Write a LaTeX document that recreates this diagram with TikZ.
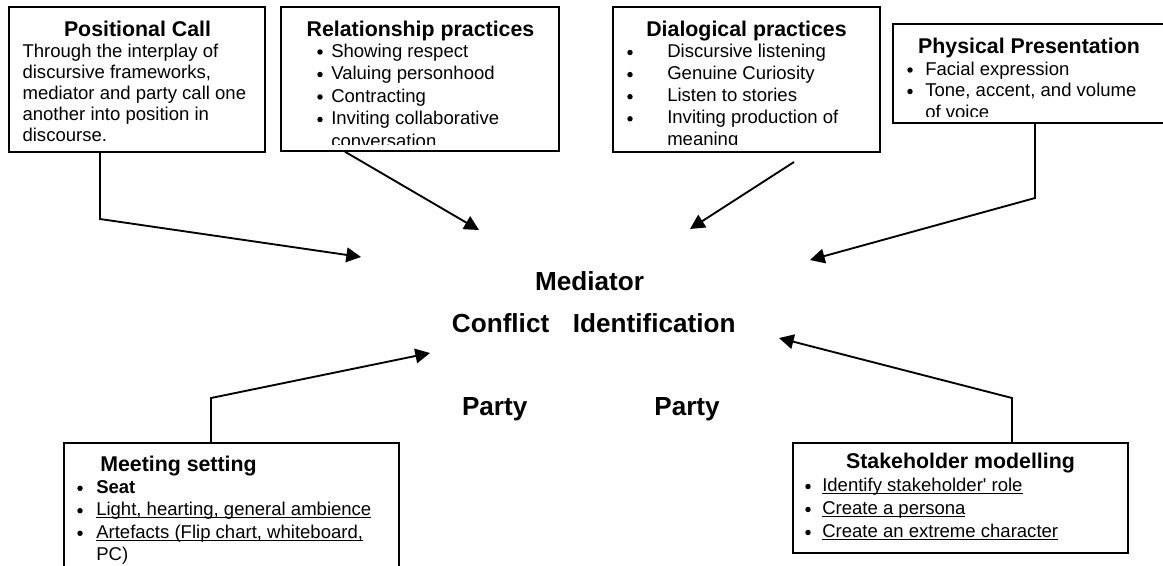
\documentclass[tikz,border=0pt]{standalone}
\usepackage{fontspec}
\setmainfont{Liberation Sans}
\usetikzlibrary{arrows.meta,fit}
\font\aposfont="Liberation Sans" at 13.9pt
\newcommand{\ulx}[1]{\setbox0=\hbox{#1}\rlap{\rule[-1.8pt]{\wd0}{0.85pt}}\box0}
\tikzset{
  box/.style={draw=black, line width=1.1pt, inner sep=0pt},
  ttl/.style={font=\fontsize{16pt}{18pt}\selectfont\bfseries, inner sep=0pt, anchor=base},
  ttlw/.style={font=\fontsize{16pt}{18pt}\selectfont\bfseries, inner sep=0pt, anchor=base west},
  txt/.style={font=\fontsize{13.9pt}{16pt}\selectfont, inner sep=0pt, anchor=base west},
  bul/.style={circle, fill=black, draw=none, inner sep=0pt, minimum size=4.1pt},
  big/.style={font=\fontsize{19.6pt}{22pt}\selectfont\bfseries, inner sep=0pt, anchor=base},
  bigw/.style={font=\fontsize{19.6pt}{22pt}\selectfont\bfseries, inner sep=0pt, anchor=base west},
  conn/.style={line width=1.4pt, -{Triangle[length=11pt,width=11pt]}},
}
\begin{document}
\begin{tikzpicture}[x=0.75pt, y=-0.75pt]
\useasboundingbox (0,0) rectangle (1163,565);
\clip (0,0) rectangle (1163,565);
\fill[white] (0,0) rectangle (1163,565);

% ---------- boxes ----------
\node[box, fit={(9,7) (265,152)}] (pos) {};
\node[box, fit={(281,7) (559,151)}] (rel) {};
\node[box, fit={(613,7) (880,152)}] (dial) {};
\node[box, fit={(893,24) (1166,123)}] (phys) {};
\node[box, fit={(64,443) (399,590)}] (meet) {};
\node[box, fit={(793,443) (1128,553)}] (stake) {};

% ---------- Positional Call ----------
\begin{scope}
\clip (9,7) rectangle (265,145);
\node[ttl] (posT) at (137.5,36) {Positional Call};
\node[txt] (posL1) at (22.3,57) {Through the interplay of};
\node[txt] (posL2) at (22.3,78.2) {discursive frameworks,};
\node[txt] (posL3) at (22.3,99.4) {mediator and party call one};
\node[txt] (posL4) at (22.3,120.6) {another into position in};
\node[txt] (posL5) at (22.3,141.8) {discourse.};
\end{scope}

% ---------- Relationship practices ----------
\begin{scope}
\clip (281,7) rectangle (559,144.5);
\node[ttl] (relT) at (420.5,36) {Relationship practices};
\node[bul] (relB1) at (320,52) {};
\node[bul] (relB2) at (320,74.5) {};
\node[bul] (relB3) at (320,97) {};
\node[bul] (relB4) at (320,119.5) {};
\node[txt] (relL1) at (331,57) {Showing respect};
\node[txt] (relL2) at (331,79.5) {Valuing personhood};
\node[txt] (relL3) at (331,102) {Contracting};
\node[txt] (relL4) at (331,124.5) {Inviting collaborative};
\node[txt] (relL5) at (331,147) {conversation};
\end{scope}

% ---------- Dialogical practices ----------
\begin{scope}
\clip (613,7) rectangle (880,144);
\node[ttl] (dialT) at (746.5,36) {Dialogical practices};
\node[bul] (dialB1) at (630,52.5) {};
\node[bul] (dialB2) at (630,74.6) {};
\node[bul] (dialB3) at (630,96.7) {};
\node[bul] (dialB4) at (630,118.8) {};
\node[txt] (dialL1) at (667,57.5) {Discursive listening};
\node[txt] (dialL2) at (667,79.6) {Genuine Curiosity};
\node[txt] (dialL3) at (667,101.7) {Listen to stories};
\node[txt] (dialL4) at (667,123.8) {Inviting production of};
\node[txt] (dialL5) at (667,145.9) {meaning};
\end{scope}

% ---------- Physical Presentation ----------
\begin{scope}
\clip (893,24) rectangle (1166,116.5);
\node[ttl] (physT) at (1029,53) {Physical Presentation};
\node[bul] (physB1) at (910,70) {};
\node[bul] (physB2) at (910,91.5) {};
\node[txt] (physL1) at (925,75) {Facial expression};
\node[txt] (physL2) at (925,96.5) {Tone, accent, and volume};
\node[txt] (physL3) at (925,118) {of voice};
\end{scope}

% ---------- Meeting setting ----------
\node[ttlw] (meetT) at (100,471) {Meeting setting};
\node[bul] (meetB1) at (80,488.3) {};
\node[bul] (meetB2) at (80,510.7) {};
\node[bul] (meetB3) at (80,533.3) {};
\node[txt, font=\fontsize{13.9pt}{16pt}\selectfont\bfseries] (meetL1) at (96,493.3) {Seat};
\node[txt] (meetL2) at (96,515.7) {\ulx{Light, hearting, general ambience}};
\node[txt] (meetL3) at (96,538.3) {\ulx{Artefacts (Flip chart, whiteboard,}};
\node[txt] (meetL4) at (96,560.5) {PC)};

% ---------- Stakeholder modelling ----------
\node[ttl] (stakeT) at (960.5,468.5) {Stakeholder modelling};
\node[bul] (stakeB1) at (808,486.5) {};
\node[bul] (stakeB2) at (808,509.5) {};
\node[bul] (stakeB3) at (808,532.5) {};
\node[txt] (stakeL1) at (822,491.5) {\ulx{Identify stakeholder{\aposfont'} role}};
\node[txt] (stakeL2) at (822,514.5) {\ulx{Create a persona}};
\node[txt] (stakeL3) at (822,537.5) {\ulx{Create an extreme character}};

% ---------- centre ----------
\node[big] (med) at (589.5,290.7) {Mediator};
\node[bigw] (conf) at (451.7,332) {Conflict\hspace{17.8pt}Identification};
\node[big] (party1) at (494.7,415) {Party};
\node[big] (party2) at (687,415) {Party};

% ---------- connector points ----------
\coordinate (posA) at (100,219);
\coordinate (tipPos) at (361,257);
\coordinate (relX) at (345,0);
\coordinate (tipRel) at (479,230);
\coordinate (dialS) at (794,162);
\coordinate (tipDial) at (690,229);
\coordinate (physA) at (1035,198);
\coordinate (tipPhys) at (810,260);
\coordinate (meetA) at (211,398);
\coordinate (tipMeet) at (430,353);
\coordinate (stakeA) at (1012,398);
\coordinate (tipStake) at (779,338);

% ---------- connectors ----------
\draw[conn] (pos.south -| posA) -- (posA) -- (tipPos);
\draw[conn] (rel.south -| relX) -- (tipRel);
\draw[conn] (dialS) -- (tipDial);
\draw[conn] (phys.south -| physA) -- (physA) -- (tipPhys);
\draw[conn] (meet.north -| meetA) -- (meetA) -- (tipMeet);
\draw[conn] (stake.north -| stakeA) -- (stakeA) -- (tipStake);
\end{tikzpicture}
\end{document}
